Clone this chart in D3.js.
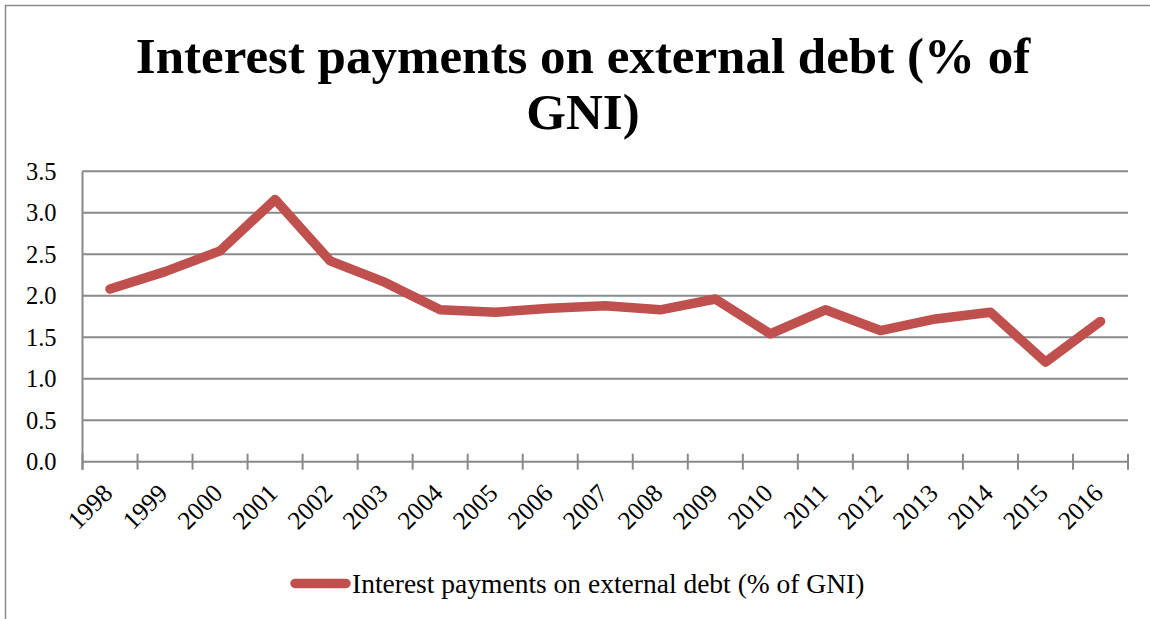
<!DOCTYPE html>
<html>
<head>
<meta charset="utf-8">
<script src="https://cdn.jsdelivr.net/npm/d3@7"></script>
<style>
  html, body { margin: 0; padding: 0; background: #fff; }
  svg { display: block; font-family: "Liberation Serif", "DejaVu Serif", serif; }
</style>
</head>
<body>
<svg id="chart" width="1150" height="619"></svg>
<script>
// Interest payments on external debt, % of GNI, by year
const years = ["1998","1999","2000","2001","2002","2003","2004","2005","2006","2007",
               "2008","2009","2010","2011","2012","2013","2014","2015","2016"];
const interestPct = [2.08, 2.29, 2.54, 3.16, 2.42, 2.16, 1.83, 1.80, 1.85, 1.88,
                     1.83, 1.96, 1.54, 1.83, 1.58, 1.72, 1.80, 1.20, 1.69];
const yTicks = [0, 0.5, 1.0, 1.5, 2.0, 2.5, 3.0, 3.5];
const titleLines = ["Interest payments on external debt (% of", "GNI)"];
const seriesName = "Interest payments on external debt (% of GNI)";

const svg = d3.select("#chart");
const W = 1150, H = 619;
const plot = { left: 82.5, right: 1128, top: 171.2, bottom: 461.7 };
const gridColor = "#898989";
const lineColor = "#C0504D";

// outer chart frame (runs off the right and bottom edges)
svg.append("path")
  .attr("d", `M5.5,${H + 5} V5.5 H${W + 5}`)
  .attr("fill", "none").attr("stroke", "#8a8a8a").attr("stroke-width", 1.5);

// title
const title = svg.append("text")
  .attr("text-anchor", "middle")
  .attr("font-weight", "bold")
  .attr("font-size", 51)
  .attr("fill", "#000");
titleLines.forEach((t, i) => {
  title.append("tspan").attr("x", 583).attr("y", 73 + i * 56).text(t);
});

const x = d3.scaleBand().domain(years).range([plot.left, plot.right]);
const y = d3.scaleLinear().domain([0, 3.5]).range([plot.bottom, plot.top]);

// horizontal gridlines
svg.append("g").selectAll("line").data(yTicks.filter(d => d > 0)).join("line")
  .attr("x1", plot.left).attr("x2", plot.right)
  .attr("y1", d => y(d)).attr("y2", d => y(d))
  .attr("stroke", gridColor).attr("stroke-width", 2);

// y axis line
svg.append("line")
  .attr("x1", plot.left).attr("x2", plot.left)
  .attr("y1", plot.top).attr("y2", plot.bottom + 8)
  .attr("stroke", gridColor).attr("stroke-width", 2);

// y tick labels
svg.append("g").selectAll("text").data(yTicks).join("text")
  .attr("x", 56.5).attr("y", d => y(d)).attr("dy", "0.34em")
  .attr("text-anchor", "end").attr("font-size", 24.5).attr("fill", "#000")
  .text(d => d.toFixed(1));

// x axis with crossing tick marks at band edges
svg.append("line")
  .attr("x1", plot.left).attr("x2", plot.right)
  .attr("y1", plot.bottom).attr("y2", plot.bottom)
  .attr("stroke", gridColor).attr("stroke-width", 2);
const edges = years.map(d => x(d)).concat([plot.right]);
svg.append("g").selectAll("line").data(edges).join("line")
  .attr("x1", d => d).attr("x2", d => d)
  .attr("y1", plot.bottom - 8).attr("y2", plot.bottom + 8)
  .attr("stroke", gridColor).attr("stroke-width", 2);

// rotated year labels
svg.append("g").selectAll("text").data(years).join("text")
  .attr("transform", d => `translate(${x(d) + x.bandwidth() / 2 + 4},${plot.bottom + 33}) rotate(-45)`)
  .attr("text-anchor", "end").attr("font-size", 25.5).attr("fill", "#000")
  .text(d => d);

// data line
const line = d3.line()
  .x((d, i) => x(years[i]) + x.bandwidth() / 2)
  .y(d => y(d));
svg.append("path")
  .datum(interestPct)
  .attr("d", line)
  .attr("fill", "none")
  .attr("stroke", lineColor).attr("stroke-width", 9.5)
  .attr("stroke-linejoin", "round").attr("stroke-linecap", "round");

// legend
svg.append("line")
  .attr("x1", 295).attr("x2", 346).attr("y1", 583.5).attr("y2", 583.5)
  .attr("stroke", lineColor).attr("stroke-width", 9.5).attr("stroke-linecap", "round");
svg.append("text")
  .attr("x", 352).attr("y", 592.5)
  .attr("font-size", 27.5).attr("fill", "#000")
  .text(seriesName);
</script>
</body>
</html>
